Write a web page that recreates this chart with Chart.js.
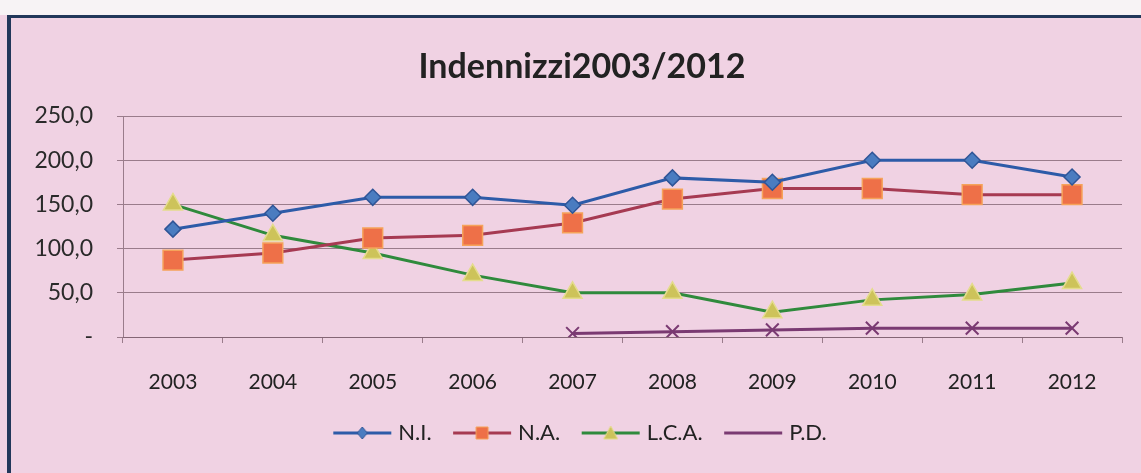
<!DOCTYPE html>
<html>
<head>
<meta charset="utf-8">
<script src="https://cdn.jsdelivr.net/npm/chart.js@4.4.1/dist/chart.umd.min.js"></script>
<style>
  html, body { margin: 0; padding: 0; background: #f6f1f3; }
  #wrap { position: relative; width: 1141px; height: 473px; overflow: hidden; background: #f0d2e3; }
  #top { position: absolute; left: 0; top: 0; width: 1141px; height: 15px; background: #f7f3f5; }
  #frame { position: absolute; left: 7px; top: 15px; width: 1141px; height: 470px;
           border-top: 3px solid #22375a; border-left: 4px solid #22375a; box-sizing: border-box; }
  canvas { position: absolute; left: 0; top: 0; }
</style>
</head>
<body>
<div id="wrap">
  <div id="top"></div>
  <div id="frame"></div>
  <canvas id="c" width="1141" height="473"></canvas>
</div>
<script>
const categories = ['2003','2004','2005','2006','2007','2008','2009','2010','2011','2012'];
const niValues  = [122, 140, 158, 158, 149, 180, 175, 200, 200, 181];
const naValues  = [87, 95, 112, 115, 129, 156, 168, 168, 161, 161];
const lcaValues = [150, 115, 95, 70, 50, 50, 28, 42, 48, 61];
const pdValues  = [null, null, null, null, 4, 6, 8, 10, 10, 10];
const seriesNames = ['N.I.', 'N.A.', 'L.C.A.', 'P.D.'];
const yTicks = [0, 50, 100, 150, 200, 250];

const styles = [
  { line: '#2d5ba8', style: 'rectRot', r: 8,  fill: '#4a7cc0', border: '#2f5597' },
  { line: '#a63a52', style: 'rect',    r: 14, fill: '#ee7048', border: '#f5a35a' },
  { line: '#2f8a3c', style: 'triangle',r: 11, fill: '#cdc35a', border: '#e4dc8c' },
  { line: '#7a3a72', style: 'crossRot',r: 9,  fill: '#7a3a72', border: '#7a3a72' }
];

function legendIcon(s, showMarker) {
  const c = document.createElement('canvas');
  c.width = 62; c.height = 16;
  const g = c.getContext('2d');
  g.strokeStyle = s.line; g.lineWidth = 3;
  g.beginPath(); g.moveTo(2, 8); g.lineTo(60, 8); g.stroke();
  if (showMarker) {
    g.fillStyle = s.fill; g.strokeStyle = s.border; g.lineWidth = 1;
    g.beginPath();
    if (s.style === 'rectRot') { g.moveTo(31,2); g.lineTo(36,8); g.lineTo(31,14); g.lineTo(26,8); g.closePath(); }
    else if (s.style === 'rect') { g.rect(25,2,12,12); }
    else if (s.style === 'triangle') { g.moveTo(31,1); g.lineTo(38,14); g.lineTo(24,14); g.closePath(); }
    g.fill(); g.stroke();
  }
  return c;
}
const icons = styles.map((s, i) => legendIcon(s, i < 3));

const values = [niValues, naValues, lcaValues, pdValues];
const datasets = values.map((v, i) => ({
  label: seriesNames[i],
  data: v,
  borderColor: styles[i].line,
  borderWidth: 3,
  backgroundColor: styles[i].fill,
  pointStyle: styles[i].style,
  pointRadius: styles[i].r,
  pointHoverRadius: styles[i].r,
  pointBackgroundColor: styles[i].fill,
  pointBorderColor: styles[i].border,
  pointBorderWidth: i === 3 ? 2 : 1.5,
  tension: 0,
  fill: false
}));

const gridColor = 'rgba(125,95,110,0.75)';

// shift the centred title and legend a little to the right, as in the reference
const centreShift = {
  id: 'centreShift',
  afterLayout(chart) {
    [chart.titleBlock, chart.legend].forEach(b => { if (b) { b.left += 42; } });
  }
};

new Chart(document.getElementById('c'), {
  type: 'line',
  data: { labels: categories, datasets },
  plugins: [centreShift],
  options: {
    responsive: false,
    animation: false,
    layout: { padding: { left: 0, right: 19, top: 0, bottom: 19 } },
    plugins: {
      title: {
        display: true,
        text: 'Indennizzi2003/2012',
        color: '#222',
        font: { family: 'Lato', size: 34, weight: 'bold' },
        padding: { top: 46.6, bottom: 28.6 }
      },
      legend: {
        position: 'bottom',
        labels: {
          usePointStyle: true,
          pointStyleWidth: 50,
          padding: 25.5,
          color: '#222',
          font: { family: 'Lato', size: 22 },
          generateLabels: (chart) => chart.data.datasets.map((d, i) => ({
            text: d.label,
            pointStyle: icons[i],
            datasetIndex: i,
            fontColor: '#222',
            hidden: false,
            lineWidth: 0,
            strokeStyle: 'transparent',
            fillStyle: 'transparent'
          }))
        }
      },
      tooltip: { enabled: false }
    },
    scales: {
      x: {
        offset: true,
        grid: { offset: true, drawOnChartArea: false, drawTicks: true, tickLength: 6, color: gridColor },
        border: { display: true, color: gridColor, width: 1 },
        ticks: { color: '#222', font: { family: 'Lato', size: 21 }, padding: 27, maxRotation: 0 },
        afterFit: (s) => { s.height = 59.5; }
      },
      y: {
        min: 0, max: 250,
        afterBuildTicks: (s) => { s.ticks = yTicks.map(v => ({ value: v })); },
        grid: { color: gridColor, tickLength: 6, lineWidth: 1 },
        border: { display: true, color: gridColor, width: 1 },
        ticks: {
          color: '#2a2a2a',
          font: { family: 'Lato', size: 23 },
          padding: 24,
          callback: (v) => v === 0 ? '-' : v.toFixed(1).replace('.', ',')
        },
        afterFit: (s) => { s.width = 123; }
      }
    }
  }
});
</script>
</body>
</html>
